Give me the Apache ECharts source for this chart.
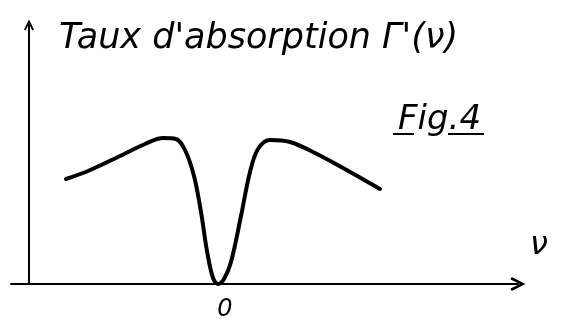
<!DOCTYPE html>
<html>
<head>
<meta charset="utf-8">
<script src="https://cdn.jsdelivr.net/npm/echarts@6/dist/echarts.min.js"></script>
<style>
  html, body { margin: 0; padding: 0; background: #fff; }
  #chart { width: 581px; height: 326px; }
</style>
</head>
<body>
<div id="chart"></div>
<script>
// Absorption rate Γ'(ν) versus frequency ν: a broad profile with a narrow hole at ν = 0
const nu = [-1.52, -1.30, -1.00, -0.73, -0.55, -0.42, -0.33, -0.24, -0.17, -0.11, -0.05, 0.0,
            0.06, 0.13, 0.23, 0.32, 0.40, 0.52, 0.72, 0.97, 1.25, 1.62];
const gamma = [1.05, 1.13, 1.27, 1.40, 1.46, 1.45, 1.34, 1.08, 0.72, 0.33, 0.06, 0.0,
               0.05, 0.22, 0.68, 1.12, 1.35, 1.44, 1.42, 1.31, 1.16, 0.95];
const xTicks = [0];
const yTitle = "Taux d'absorption Γ'(ν)";
const xTitle = 'ν';
const figLabel = 'Fig.4';

const ink = '#000';
const hand = "'DejaVu Sans', sans-serif";
// open chevron used as arrow head
const chevron = 'path://M0,10 L5,0 L10,10 L8.2,10.9 L5,4 L1.8,10.9 Z';

const chart = echarts.init(document.getElementById('chart'), null, { renderer: 'canvas' });
chart.setOption({
  animation: false,
  backgroundColor: '#fff',
  title: {
    text: figLabel,
    left: 393,
    top: 98,
    textStyle: { fontFamily: hand, fontStyle: 'italic', fontWeight: 'normal', fontSize: 34, color: ink }
  },
  grid: { left: 11, right: 63, top: 25, bottom: 42 },
  xAxis: {
    type: 'value',
    min: -2.07,
    max: 3.0,
    splitLine: { show: false },
    axisTick: { show: false },
    axisLine: {
      onZero: false,
      symbol: ['none', chevron],
      symbolSize: [18, 15],
      lineStyle: { color: ink, width: 2 }
    },
    axisLabel: {
      customValues: xTicks,
      margin: 14,
      padding: [0, 0, 0, 14],
      fontFamily: hand, fontStyle: 'italic', fontSize: 24, color: ink
    },
    name: xTitle,
    nameLocation: 'end',
    nameGap: 12,
    nameTextStyle: {
      fontFamily: hand, fontStyle: 'italic', fontSize: 32, color: ink,
      verticalAlign: 'bottom', padding: [0, 0, 22, 0]
    }
  },
  yAxis: {
    type: 'value',
    min: 0,
    max: 2.59,
    offset: -18,
    splitLine: { show: false },
    axisTick: { show: false },
    axisLabel: { show: false },
    axisLine: {
      show: true,
      onZero: false,
      symbol: ['none', chevron],
      symbolSize: [13, 11],
      lineStyle: { color: ink, width: 2 }
    },
    name: yTitle,
    nameLocation: 'end',
    nameGap: -14,
    nameTextStyle: {
      fontFamily: hand, fontStyle: 'italic', fontSize: 35, color: ink,
      align: 'left', verticalAlign: 'middle', padding: [0, 0, 0, 30]
    }
  },
  series: [{
    type: 'line',
    data: nu.map((v, i) => [v, gamma[i]]),
    smooth: 0.35,
    showSymbol: false,
    lineStyle: { color: ink, width: 4, cap: 'round', join: 'round' }
  }],
  graphic: [
    { type: 'line', shape: { x1: 393, y1: 134, x2: 414, y2: 134 }, style: { stroke: ink, lineWidth: 2 } },
    { type: 'line', shape: { x1: 448, y1: 134, x2: 484, y2: 134 }, style: { stroke: ink, lineWidth: 2 } }
  ]
});
</script>
</body>
</html>
